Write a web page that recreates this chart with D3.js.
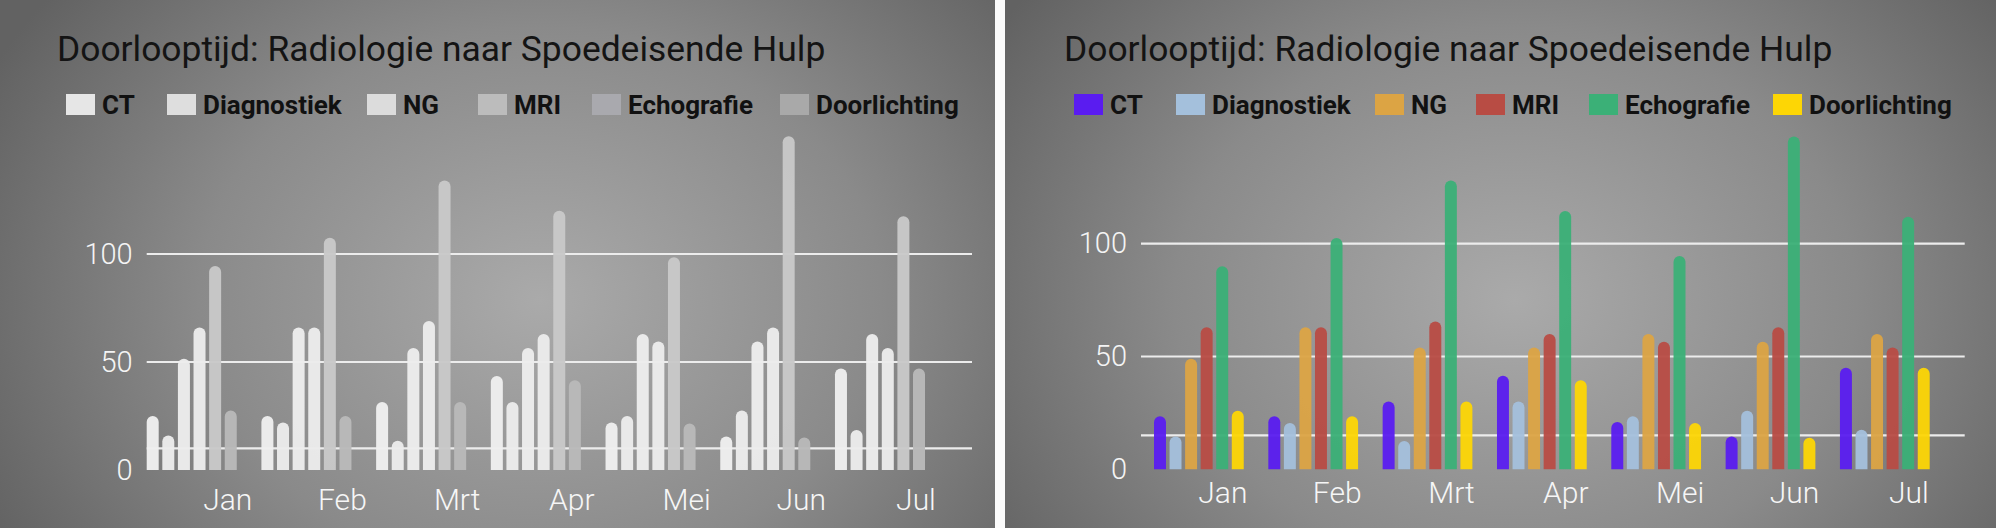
<!DOCTYPE html>
<html>
<head>
<meta charset="utf-8">
<script src="https://cdn.jsdelivr.net/npm/d3@7"></script>
<style>
  body { margin: 0; background: #fff; }
  svg { display: block; }
  text { font-family: Roboto, "Noto Sans", sans-serif; }
</style>
</head>
<body>
<svg id="chart"></svg>
<script>
// categories and series
const months = ["Jan", "Feb", "Mrt", "Apr", "Mei", "Jun", "Jul"];
const seriesNames = ["CT", "Diagnostiek", "NG", "MRI", "Echografie", "Doorlichting"];
const yTickLabels = [0, 50, 100];

// grey panel (left)
const ctGrey = [25, 25, 31.5, 43.5, 22, 15.5, 47];
const diagGrey = [16, 22, 13.5, 31.5, 25, 27.5, 18.5];
const ngGrey = [51.5, 66, 56.5, 56.5, 63, 59.5, 63];
const mriGrey = [66, 66, 69, 63, 59.5, 66, 56.5];
const echoGrey = [94.5, 107.5, 134, 120, 98.5, 154.5, 117.5];
const doorGrey = [27.5, 25, 31.5, 41.5, 21.5, 15, 47];
const gridGrey = [10, 50, 100];

// colour panel (right)
const ctColour = [23.5, 23.5, 30, 41.5, 21, 14.5, 45];
const diagColour = [14.5, 20.5, 12.5, 30, 23.5, 26, 17.5];
const ngColour = [49, 63, 54, 54, 60, 56.5, 60];
const mriColour = [63, 63, 65.5, 60, 56.5, 63, 54];
const echoColour = [90, 102.5, 128, 114.5, 94.5, 147.5, 112];
const doorColour = [26, 23.5, 30, 39.5, 20.5, 14, 45];
const gridColour = [15, 50, 100];

const width = 1996;
const height = 528;

const svg = d3.select("#chart")
    .attr("width", width)
    .attr("height", height);

const defs = svg.append("defs");

function roundedTop(x, y, w, h) {
    let r = w / 2;
    if (h < r) r = h;
    return `M${x},${y + h} V${y + r} A${w / 2},${r} 0 0 1 ${x + w},${y + r} V${y + h} Z`;
}

function drawPanel(p) {
    let g = svg.append("g").attr("transform", `translate(${p.left},0)`);

    // background
    let grad = defs.append("radialGradient")
        .attr("id", "bg-" + p.id)
        .attr("gradientUnits", "userSpaceOnUse")
        .attr("cx", p.glowX).attr("cy", 300).attr("r", 620)
        .attr("gradientTransform", `translate(${p.glowX},300) scale(1,0.8) translate(${-p.glowX},-300)`);
    grad.append("stop").attr("offset", "0%").attr("stop-color", "#aaaaaa");
    grad.append("stop").attr("offset", "55%").attr("stop-color", "#8a8a8a");
    grad.append("stop").attr("offset", "100%").attr("stop-color", "#626262");

    g.append("rect")
        .attr("width", p.width)
        .attr("height", height)
        .attr("fill", `url(#bg-${p.id})`);

    // title
    g.append("text")
        .attr("x", p.titleX)
        .attr("y", 61)
        .attr("font-size", 35.4)
        .attr("fill", "#141414")
        .text("Doorlooptijd: Radiologie naar Spoedeisende Hulp");

    // legend
    let legend = g.append("g").attr("class", "legend");
    seriesNames.forEach((name, i) => {
        legend.append("rect")
            .attr("x", p.legendX[i])
            .attr("y", 94)
            .attr("width", 29)
            .attr("height", 21)
            .attr("fill", p.swatches[i]);
        legend.append("text")
            .attr("x", p.legendX[i] + 36)
            .attr("y", 114)
            .attr("font-size", 26)
            .attr("font-weight", "bold")
            .attr("fill", "#111")
            .text(name);
    });

    // scales
    let x0 = d3.scaleBand()
        .domain(months)
        .range([p.barStart, p.barEnd])
        .paddingInner(0.215);

    let x1 = d3.scaleBand()
        .domain(seriesNames)
        .range([0, x0.bandwidth()])
        .paddingInner(0.231);

    let y = d3.scaleLinear()
        .domain([0, 100])
        .range([p.zeroY, p.hundredY]);

    // gridlines
    g.append("g")
        .selectAll("line")
        .data(p.grid)
        .enter()
        .append("line")
        .attr("x1", p.gridStart)
        .attr("x2", p.gridEnd)
        .attr("y1", d => y(d))
        .attr("y2", d => y(d))
        .attr("stroke", "#ececec")
        .attr("stroke-width", 2.2);

    // y axis labels
    let yAxis = g.append("g")
        .attr("transform", `translate(${p.gridStart},0)`)
        .call(d3.axisLeft(y).tickValues(yTickLabels).tickSize(0).tickPadding(14));
    yAxis.select(".domain").remove();
    yAxis.selectAll("text")
        .attr("font-size", 29)
        .attr("font-family", "Roboto, sans-serif")
        .attr("font-weight", 300)
        .attr("fill", "#f4f4f4");

    // x axis labels
    let xAxis = g.append("g")
        .attr("transform", `translate(0,${p.monthY})`)
        .call(d3.axisBottom(x0).tickSize(0).tickPadding(0));
    xAxis.select(".domain").remove();
    xAxis.selectAll("text")
        .attr("dx", p.monthDx)
        .attr("dy", 0)
        .attr("y", 0)
        .attr("font-size", 30)
        .attr("font-family", "Roboto, sans-serif")
        .attr("font-weight", 300)
        .attr("fill", "#f6f6f6");

    // bars
    let groups = g.append("g")
        .selectAll("g")
        .data(months)
        .enter()
        .append("g")
        .attr("transform", d => `translate(${x0(d)},0)`);

    groups.selectAll("path")
        .data((m, mi) => seriesNames.map((s, si) => ({ s: s, si: si, v: p.values[si][mi] })))
        .enter()
        .append("path")
        .attr("d", d => roundedTop(x1(d.s), y(d.v), x1.bandwidth(), p.zeroY - y(d.v)))
        .attr("fill", d => p.barColours[d.si])
        .attr("opacity", p.barOpacity);
}

drawPanel({
    id: "grey",
    left: 0,
    width: 995,
    glowX: 540,
    titleX: 57,
    legendX: [66, 167, 367, 478, 592, 780],
    swatches: ["#e6e6e6", "#dedede", "#dcdcdc", "#bcbcbc", "#a9a9ae", "#a9a9a9"],
    barColours: ["#eeeeee", "#ebebeb", "#ececec", "#ebebeb", "#c8c8c8", "#b9b9b9"],
    barOpacity: 0.97,
    barStart: 146.7,
    barEnd: 925,
    gridStart: 146.7,
    gridEnd: 972,
    zeroY: 470,
    hundredY: 254,
    grid: gridGrey,
    monthY: 510,
    monthDx: 36,
    values: [ctGrey, diagGrey, ngGrey, mriGrey, echoGrey, doorGrey]
});

drawPanel({
    id: "colour",
    left: 1005,
    width: 991,
    glowX: 510,
    titleX: 59,
    legendX: [69, 171, 370, 471, 584, 768],
    swatches: ["#5a1cf0", "#a4c0dc", "#dca444", "#b84c44", "#3bb077", "#fdd605"],
    barColours: ["#5a1cf0", "#a4c0dc", "#dca444", "#b84c44", "#3bb077", "#fdd605"],
    barOpacity: 0.95,
    barStart: 149,
    barEnd: 924.7,
    gridStart: 136,
    gridEnd: 959.7,
    zeroY: 469.3,
    hundredY: 243.7,
    grid: gridColour,
    monthY: 503,
    monthDx: 24,
    values: [ctColour, diagColour, ngColour, mriColour, echoColour, doorColour]
});

// white divider between the panels
svg.append("rect")
    .attr("x", 995)
    .attr("y", 0)
    .attr("width", 10)
    .attr("height", height)
    .attr("fill", "#fbfbfb");
</script>
</body>
</html>
